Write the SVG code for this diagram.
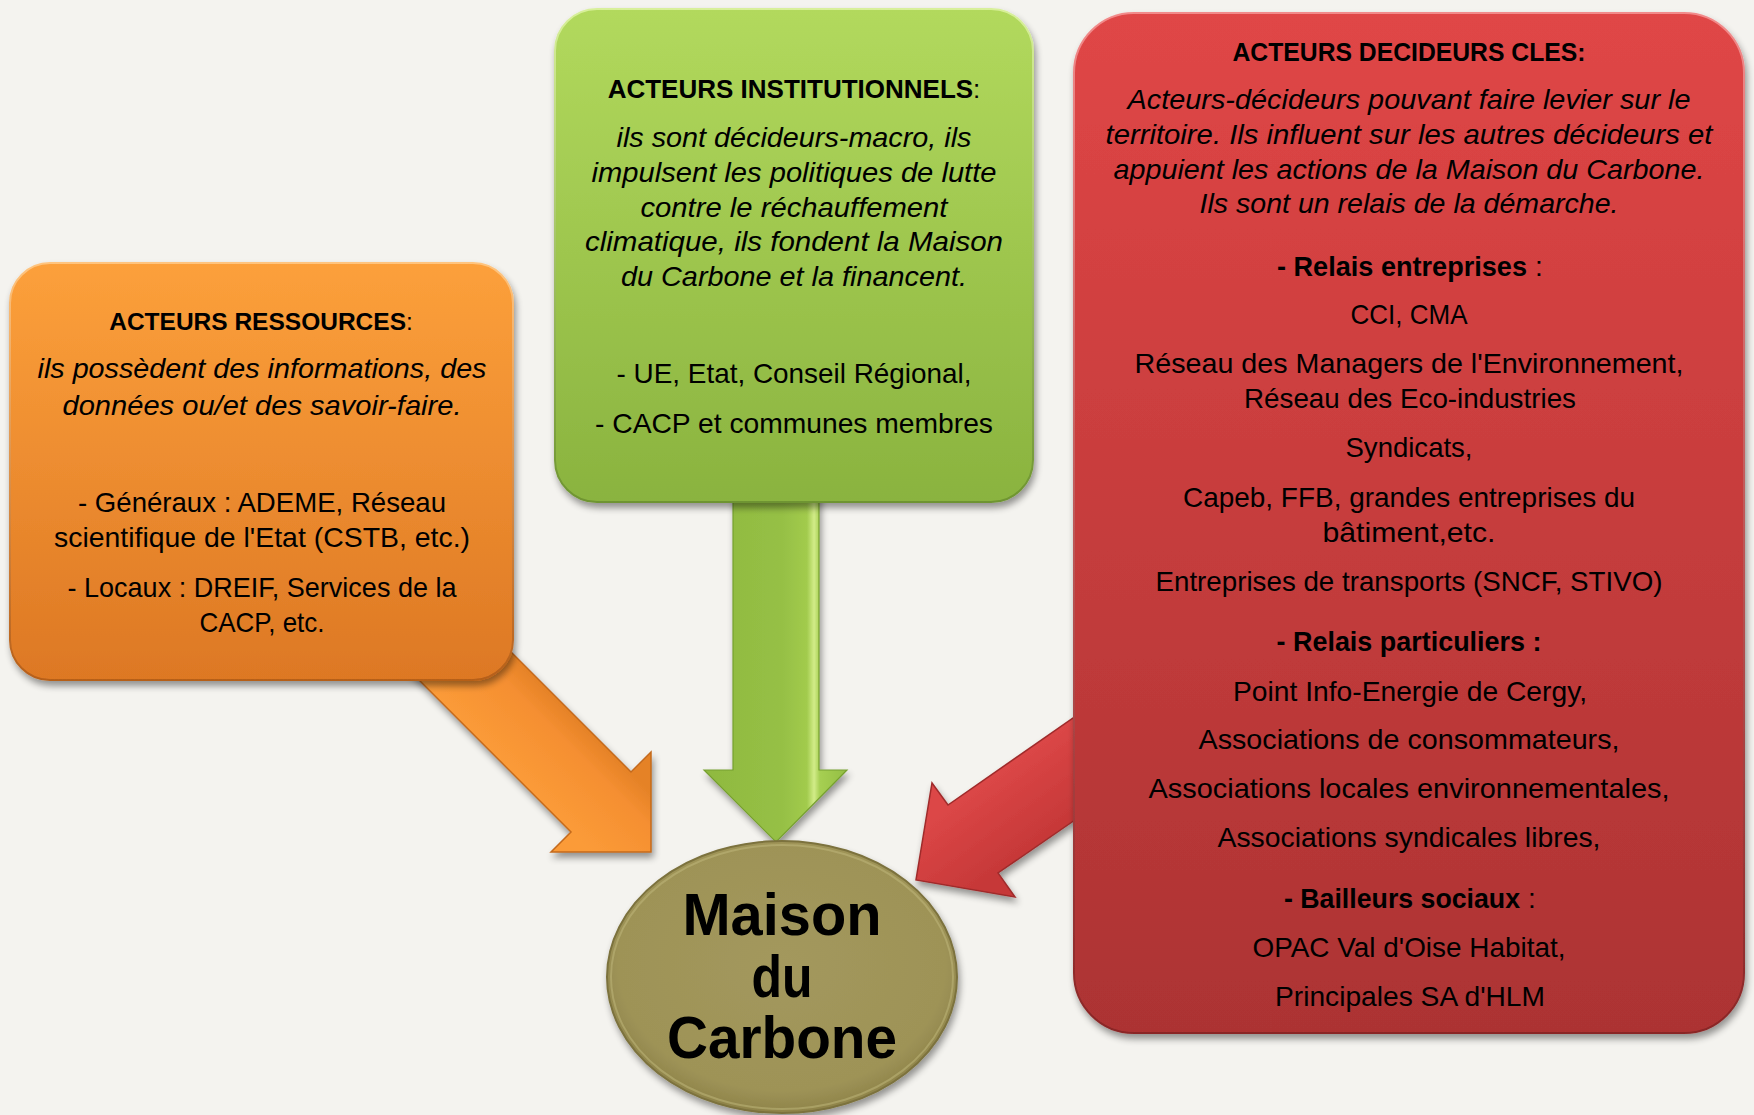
<svg xmlns="http://www.w3.org/2000/svg" width="1754" height="1115" viewBox="0 0 1754 1115">
<defs>
<style>
.t{font-family:"Liberation Sans",Arial,sans-serif;font-size:28px;text-anchor:middle;fill:#000}
.s{text-anchor:start}
.i{font-style:italic}
.b{font-weight:bold}
.h{font-size:25px;font-weight:bold}
.r{font-weight:normal}
.m{font-family:"Liberation Sans",Arial,sans-serif;font-size:60px;font-weight:bold;text-anchor:middle;fill:#000}
.sh{filter:url(#sh)}
</style>
<filter id="sh" x="-10%" y="-10%" width="125%" height="125%">
<feGaussianBlur in="SourceAlpha" stdDeviation="3.5"/>
<feOffset dx="2" dy="5"/>
<feComponentTransfer><feFuncA type="linear" slope="0.4"/></feComponentTransfer>
<feMerge><feMergeNode/><feMergeNode in="SourceGraphic"/></feMerge>
</filter>
<linearGradient id="gO" x1="0" y1="0" x2="0" y2="1"><stop offset="0" stop-color="#FCA03B"/><stop offset="1" stop-color="#DD7824"/></linearGradient>
<linearGradient id="rO" x1="0" y1="0" x2="0" y2="1"><stop offset="0" stop-color="#FFC47E"/><stop offset="1" stop-color="#B65F19"/></linearGradient>
<linearGradient id="gG" x1="0" y1="0" x2="0" y2="1"><stop offset="0" stop-color="#B2D95D"/><stop offset="1" stop-color="#8AB33F"/></linearGradient>
<linearGradient id="rG" x1="0" y1="0" x2="0" y2="1"><stop offset="0" stop-color="#D8F09A"/><stop offset="1" stop-color="#6E9430"/></linearGradient>
<linearGradient id="gR" x1="0" y1="0" x2="0" y2="1"><stop offset="0" stop-color="#E04646"/><stop offset="1" stop-color="#AC3333"/></linearGradient>
<linearGradient id="rR" x1="0" y1="0" x2="0" y2="1"><stop offset="0" stop-color="#F28A8A"/><stop offset="1" stop-color="#8A2626"/></linearGradient>
<radialGradient id="gE" cx="0.5" cy="0.45" r="0.55"><stop offset="0" stop-color="#A3985D"/><stop offset="0.85" stop-color="#9E9357"/><stop offset="1" stop-color="#8E8349"/></radialGradient>
<linearGradient id="aO" gradientUnits="userSpaceOnUse" x1="571" y1="832" x2="631" y2="772"><stop offset="0" stop-color="#FB9B38"/><stop offset="0.7" stop-color="#F58F31"/><stop offset="1" stop-color="#E58227"/></linearGradient>
<linearGradient id="aG" gradientUnits="userSpaceOnUse" x1="704" y1="0" x2="847" y2="0"><stop offset="0" stop-color="#8FB940"/><stop offset="0.55" stop-color="#96C045"/><stop offset="0.72" stop-color="#A2CB4D"/><stop offset="0.77" stop-color="#D2EC88"/><stop offset="0.81" stop-color="#A6CF52"/><stop offset="1" stop-color="#94BE44"/></linearGradient>
<linearGradient id="aR" gradientUnits="userSpaceOnUse" x1="998" y1="873" x2="948" y2="805"><stop offset="0" stop-color="#C63838"/><stop offset="1" stop-color="#DC4747"/></linearGradient>
</defs>
<rect x="0" y="0" width="1754" height="1115" fill="#F4F3EF"/>

<g id="connectors">
<polygon id="arrow-orange" class="sh" points="398,539 631,772 651,752 651,852 551,852 571,832 338,599" fill="url(#aO)" stroke="#C46A1C" stroke-width="1.5"/>
<polygon id="arrow-green" class="sh" points="733,490 819,490 819,770 847,770 776,842 704,770 733,770" fill="url(#aG)" stroke="#76A030" stroke-width="1.2"/>
<polygon id="arrow-red" class="sh" points="1129,679 948,805 932,783 916,880 1015,897 998,873 1179,748" fill="url(#aR)" stroke="#A02C2C" stroke-width="1.5"/>
</g>

<g id="node-ressources">
<rect class="sh" x="10" y="263" width="503" height="417" rx="40" ry="40" fill="url(#gO)" stroke="url(#rO)" stroke-width="2"/>
<text class="t" x="261" y="330" style="font-size:24.5px"><tspan class="b">ACTEURS RESSOURCES</tspan>:</text>
<text class="t i" x="262" y="378" textLength="449" lengthAdjust="spacingAndGlyphs">ils possèdent des informations, des</text>
<text class="t i" x="262" y="415" textLength="399" lengthAdjust="spacingAndGlyphs">données ou/et des savoir-faire.</text>
<text class="t" x="262" y="512" textLength="368" lengthAdjust="spacingAndGlyphs">- Généraux : ADEME, Réseau</text>
<text class="t" x="262" y="547" textLength="416" lengthAdjust="spacingAndGlyphs">scientifique de l'Etat (CSTB, etc.)</text>
<text class="t" x="262" y="597" textLength="389" lengthAdjust="spacingAndGlyphs">- Locaux : DREIF, Services de la</text>
<text class="t" x="262" y="632" textLength="125" lengthAdjust="spacingAndGlyphs">CACP, etc.</text>
</g>

<g id="node-institutionnels">
<rect class="sh" x="555" y="9" width="478" height="493" rx="42" ry="42" fill="url(#gG)" stroke="url(#rG)" stroke-width="2"/>
<text class="t" x="794" y="98" style="font-size:26px"><tspan class="b">ACTEURS INSTITUTIONNELS</tspan>:</text>
<text class="t i" x="794" y="147" textLength="355" lengthAdjust="spacingAndGlyphs">ils sont décideurs-macro, ils</text>
<text class="t i" x="794" y="182" textLength="405" lengthAdjust="spacingAndGlyphs">impulsent les politiques de lutte</text>
<text class="t i" x="794" y="217" textLength="307" lengthAdjust="spacingAndGlyphs">contre le réchauffement</text>
<text class="t i" x="794" y="251" textLength="418" lengthAdjust="spacingAndGlyphs">climatique, ils fondent la Maison</text>
<text class="t i" x="794" y="286" textLength="346" lengthAdjust="spacingAndGlyphs">du Carbone et la financent.</text>
<text class="t" x="794" y="383" textLength="355" lengthAdjust="spacingAndGlyphs">- UE, Etat, Conseil Régional,</text>
<text class="t" x="794" y="433" textLength="398" lengthAdjust="spacingAndGlyphs">- CACP et communes membres</text>
</g>

<g id="node-decideurs">
<rect class="sh" x="1074" y="13" width="670" height="1020" rx="60" ry="60" fill="url(#gR)" stroke="url(#rR)" stroke-width="2"/>
<text class="t h" x="1409" y="61" textLength="353" lengthAdjust="spacingAndGlyphs">ACTEURS DECIDEURS CLES:</text>
<text class="t i" x="1409" y="109" textLength="563" lengthAdjust="spacingAndGlyphs">Acteurs-décideurs pouvant faire levier sur le</text>
<text class="t i" x="1409" y="144" textLength="607" lengthAdjust="spacingAndGlyphs">territoire. Ils influent sur les autres décideurs et</text>
<text class="t i" x="1409" y="179" textLength="591" lengthAdjust="spacingAndGlyphs">appuient les actions de la Maison du Carbone.</text>
<text class="t i" x="1409" y="213" textLength="419" lengthAdjust="spacingAndGlyphs">Ils sont un relais de la démarche.</text>
<text class="t s b" x="1277" y="276" textLength="250" lengthAdjust="spacingAndGlyphs">- Relais entreprises</text>
<text class="t s" x="1535" y="276">:</text>
<text class="t" x="1409" y="324" textLength="117" lengthAdjust="spacingAndGlyphs">CCI, CMA</text>
<text class="t" x="1409" y="373" textLength="549" lengthAdjust="spacingAndGlyphs">Réseau des Managers de l'Environnement,</text>
<text class="t" x="1410" y="408" textLength="332" lengthAdjust="spacingAndGlyphs">Réseau des Eco-industries</text>
<text class="t" x="1409" y="457" textLength="127" lengthAdjust="spacingAndGlyphs">Syndicats,</text>
<text class="t" x="1409" y="507" textLength="452" lengthAdjust="spacingAndGlyphs">Capeb, FFB, grandes entreprises du</text>
<text class="t" x="1409" y="542" textLength="173" lengthAdjust="spacingAndGlyphs">bâtiment,etc.</text>
<text class="t" x="1409" y="591" textLength="507" lengthAdjust="spacingAndGlyphs">Entreprises de transports (SNCF, STIVO)</text>
<text class="t b" x="1409" y="651" textLength="265" lengthAdjust="spacingAndGlyphs">- Relais particuliers :</text>
<text class="t" x="1410" y="701" textLength="354" lengthAdjust="spacingAndGlyphs">Point Info-Energie de Cergy,</text>
<text class="t" x="1409" y="749" textLength="421" lengthAdjust="spacingAndGlyphs">Associations de consommateurs,</text>
<text class="t" x="1409" y="798" textLength="521" lengthAdjust="spacingAndGlyphs">Associations locales environnementales,</text>
<text class="t" x="1409" y="847" textLength="383" lengthAdjust="spacingAndGlyphs">Associations syndicales libres,</text>
<text class="t s b" x="1284" y="908" textLength="236" lengthAdjust="spacingAndGlyphs">- Bailleurs sociaux</text>
<text class="t s" x="1528" y="908">:</text>
<text class="t" x="1409" y="957" textLength="313" lengthAdjust="spacingAndGlyphs">OPAC Val d'Oise Habitat,</text>
<text class="t" x="1410" y="1006" textLength="270" lengthAdjust="spacingAndGlyphs">Principales SA d'HLM</text>
</g>

<g id="node-maison">
<ellipse class="sh" cx="782" cy="977" rx="175" ry="136" fill="url(#gE)" stroke="#7C723E" stroke-width="2"/>
<ellipse cx="782" cy="977" rx="171" ry="132" fill="none" stroke="#C2B97E" stroke-opacity="0.5" stroke-width="2"/>
<text class="m" x="782" y="935" textLength="199" lengthAdjust="spacingAndGlyphs">Maison</text>
<text class="m" x="782" y="997" textLength="61" lengthAdjust="spacingAndGlyphs">du</text>
<text class="m" x="782" y="1058" textLength="230" lengthAdjust="spacingAndGlyphs">Carbone</text>
</g>
</svg>
